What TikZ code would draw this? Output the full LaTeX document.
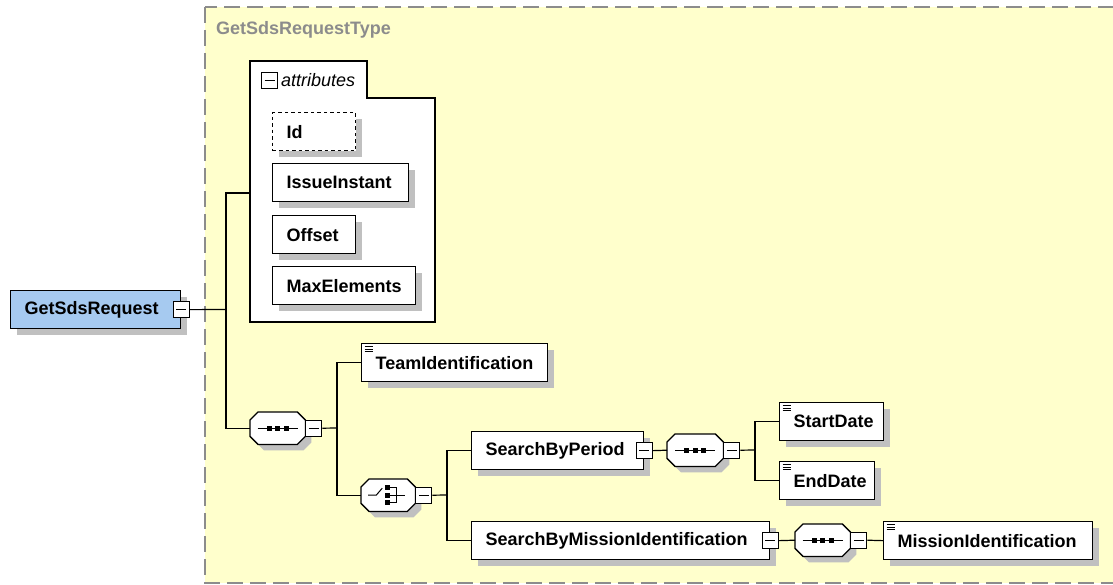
\documentclass[tikz,border=0pt]{standalone}
\usepackage{fontspec}
\setmainfont{Liberation Sans}
\usetikzlibrary{shadows}

% Colours of the schema view
\definecolor{bgyellow}{HTML}{FFFFCC}
\definecolor{rootblue}{HTML}{A6CAF0}
\definecolor{shadowgray}{HTML}{C0C0C0}
\definecolor{typegray}{HTML}{8C8C8C}

\newcommand\elemfont{\fontsize{18}{21}\selectfont\bfseries}

\tikzset{
  boxshadow/.style={drop shadow={opacity=1, fill=shadowgray, shadow xshift=6pt, shadow yshift=-6pt}},
  elem/.style={draw, fill=white, line width=1.3pt, anchor=north west,
    inner xsep=14pt, inner ysep=0pt, minimum height=38pt,
    text width=#1, align=left, font=\elemfont, boxshadow},
  group/.style={minimum width=55pt, minimum height=32pt, inner sep=0pt, anchor=north west},
  minus/.style={draw, fill=white, line width=1pt, minimum size=16pt, inner sep=0pt,
    path picture={\draw[line width=1pt] ([xshift=3pt]path picture bounding box.west)
      -- ([xshift=-3pt]path picture bounding box.east);}},
  link/.style={line width=1.2pt}
}

% Octagon outline round a group node, shifted by #2
\newcommand\octpath[2]{%
  ([shift={(8+#2,#2)}]#1.north west) -- ([shift={(-8+#2,#2)}]#1.north east)
  -- ([shift={(#2,8+#2)}]#1.north east) -- ([shift={(#2,-8+#2)}]#1.south east)
  -- ([shift={(-8+#2,#2)}]#1.south east) -- ([shift={(8+#2,#2)}]#1.south west)
  -- ([shift={(#2,-8+#2)}]#1.south west) -- ([shift={(#2,8+#2)}]#1.north west) -- cycle}

% Compositor frame with its shadow
\newcommand\octagon[1]{%
  \fill[shadowgray] \octpath{#1}{6};
  \draw[line width=1.3pt, fill=white] \octpath{#1}{0};}

% Sequence compositor icon
\newcommand\seqicon[1]{%
  \draw[line width=1pt] ([xshift=-20pt]#1.center) -- ([xshift=20pt]#1.center);
  \foreach \d in {-8.5,0,8.5} \fill ([shift={(\d-2.3,-2.3)}]#1.center) rectangle ++(4.6,4.6);}

% Choice compositor icon
\newcommand\choiceicon[1]{%
  \draw[line width=1pt] ([xshift=-20pt]#1.center) -- ++(8,0) -- ++(6,-7);
  \foreach \d in {-7.5,0,7.5} \fill ([shift={(-3,\d-2.5)}]#1.center) rectangle ++(5,5);
  \draw[line width=1pt] ([shift={(2,-7.5)}]#1.center) -| ([shift={(8,7.5)}]#1.center)
    -- ([shift={(2,7.5)}]#1.center);
  \draw[line width=1pt] ([xshift=2pt]#1.center) -- ([xshift=17pt]#1.center);}

\begin{document}
\begin{tikzpicture}[x=1pt, y=-1pt]
  \useasboundingbox (0,0) rectangle (1113,585);
  \clip (0,0) rectangle (1113,585);

  % Complex type frame
  \draw[typegray, line width=1.3pt, dash pattern=on 16pt off 7pt, fill=bgyellow]
    (205,7) rectangle (1130,583);
  \node[anchor=west, text=typegray, font=\elemfont, inner sep=0pt] (typename) at (216,30) {GetSdsRequestType};

  % Root element
  \node[elem=142, fill=rootblue] (req) at (10,290) {GetSdsRequest};
  \node[minus] (mreq) at (req.east) {};

  % Attributes group
  \draw[line width=1.3pt, fill=white] (250,61) -- (367,61) -- (367,98) -- (435,98)
    -- (435,322) -- (250,322) -- cycle;
  \coordinate (attrs) at (250,193);
  \node[minus] (mattrs) at (269.5,81) {};
  \node[anchor=west, inner sep=0pt, font=\fontsize{18}{21}\selectfont\itshape] (attrlbl) at (281,80) {attributes};

  % Attributes
  \node[elem=55, dash pattern=on 3.5pt off 3pt] (id) at (272,112) {Id};
  \node[elem=108] (issue) at (272,163) {IssueInstant};
  \node[elem=55] (offset) at (272,215) {Offset};
  \node[elem=115] (maxel) at (272,266) {MaxElements};

  % Outer sequence
  \node[group] (seqa) at (250,412) {};
  \octagon{seqa}
  \node[minus, anchor=west] (mseqa) at (seqa.east) {};
  \seqicon{seqa}

  % Children of the outer sequence
  \node[elem=158] (team) at (361,343) {TeamIdentification};
  \node[group, minimum width=54pt] (choice) at (361,479) {};
  \octagon{choice}
  \node[minus, anchor=west] (mchoice) at (choice.east) {};
  \choiceicon{choice}

  % Choice alternatives
  \node[elem=144] (period) at (471,431) {SearchByPeriod};
  \node[minus] (mperiod) at (period.east) {};
  \node[elem=270] (mission) at (471,521) {SearchByMissionIdentification};
  \node[minus] (mmission) at (mission.east) {};

  % Period sequence
  \node[group, minimum width=56pt] (seqb) at (667,434) {};
  \octagon{seqb}
  \node[minus, anchor=west] (mseqb) at (seqb.east) {};
  \seqicon{seqb}
  \node[elem=76] (start) at (779,402) {StartDate};
  \node[elem=67] (end) at (779,461) {EndDate};

  % Mission sequence
  \node[group] (seqc) at (795,524) {};
  \octagon{seqc}
  \node[minus, anchor=west] (mseqc) at (seqc.east) {};
  \seqicon{seqc}
  \node[elem=181] (mid) at (883,521) {MissionIdentification};

  % Simple content marks
  \foreach \n in {team,start,end,mid}
    \foreach \k in {0,1,2}
      \draw[line width=0.8pt] ([shift={(3.5,3.5+\k*2.6)}]\n.north west) -- ++(8,0);

  % Junctions
  \coordinate (trunk) at (226,309.5);
  \coordinate (ja) at (337,428);
  \coordinate (jb) at (447,495);
  \coordinate (jc) at (755,450);

  % Connectors
  \draw[link] (mreq.east) -- (trunk);
  \draw[link] (attrs) -| (trunk) |- (seqa.west);
  \draw[link] (mseqa.east) -- (ja);
  \draw[link] (team.west) -| (ja) |- (choice.west);
  \draw[link] (mchoice.east) -- (jb);
  \draw[link] (period.west) -| (jb) |- (mission.west);
  \draw[link] (mperiod.east) -- (seqb.west);
  \draw[link] (mseqb.east) -- (jc);
  \draw[link] (start.west) -| (jc) |- (end.west);
  \draw[link] (mmission.east) -- (seqc.west);
  \draw[link] (mseqc.east) -- (mid.west);
\end{tikzpicture}
\end{document}
